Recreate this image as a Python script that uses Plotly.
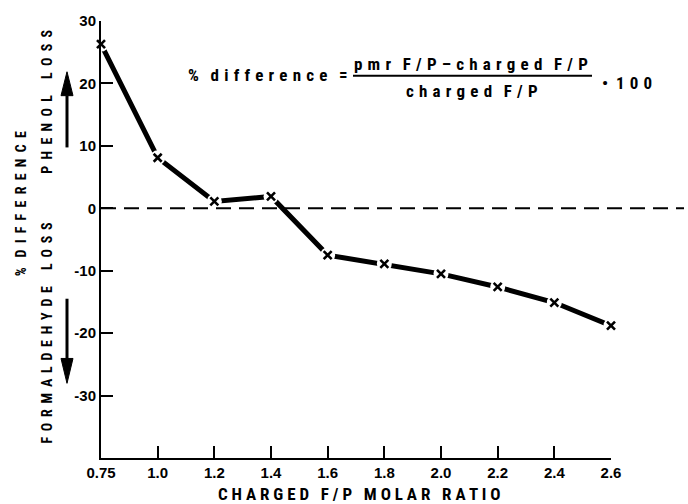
import plotly.graph_objects as go

# ---- data ----
ratio_labels = ["0.75", "1.0", "1.2", "1.4", "1.6", "1.8", "2.0", "2.2", "2.4", "2.6"]
pct_difference = [26.3, 8.1, 1.1, 1.9, -7.5, -8.9, -10.5, -12.6, -15.1, -18.8]
y_tickvals = [30, 20, 10, 0, -10, -20, -30]
y_ticktext = ["30", "20", "10", "0", "-10", "-20", "-30"]

W, H = 688, 504
L, R, T, B = 101, 77, 19, 46
PW, PH = W - L - R, H - T - B

def px(x):
    return (x - L) / PW

def py(y):
    return (H - B - y) / PH

FONT = "Roboto Condensed, Open Sans Condensed, Liberation Sans, sans-serif"
TICKFONT = "Liberation Sans, Arial, sans-serif"

fig = go.Figure()
fig.add_trace(go.Scatter(x=ratio_labels, y=pct_difference, mode="lines",
                         line=dict(color="black", width=5), cliponaxis=False,
                         showlegend=False, hoverinfo="skip"))
fig.add_trace(go.Scatter(x=ratio_labels, y=pct_difference, mode="markers",
                         marker=dict(symbol="circle", size=15, color="white"),
                         cliponaxis=False, showlegend=False, hoverinfo="skip"))
fig.add_trace(go.Scatter(x=ratio_labels, y=pct_difference, mode="markers",
                         marker=dict(symbol="x-thin", size=8,
                                     line=dict(color="black", width=2.6)),
                         cliponaxis=False, showlegend=False))

shapes = []
shapes.append(dict(type="line", xref="paper", yref="y", x0=0, x1=px(684), y0=0, y1=0,
                   line=dict(color="black", width=2, dash="15px,8px"), layer="above"))

def arrow(x, tip, base, tail):
    out = []
    out.append(dict(type="line", xref="paper", yref="paper", x0=px(x), x1=px(x),
                    y0=py(base), y1=py(tail), line=dict(color="black", width=3)))
    out.append(dict(type="path", xref="paper", yref="paper",
                    path=f"M{px(x-6)},{py(base)} L{px(x+6)},{py(base)} L{px(x)},{py(tip)} Z",
                    fillcolor="black", line=dict(color="black", width=1)))
    return out

shapes += arrow(67, 70, 94, 146)
shapes += arrow(67, 383, 358, 298)

shapes.append(dict(type="line", xref="paper", yref="paper", x0=px(353), x1=px(592),
                   y0=py(74), y1=py(74), line=dict(color="black", width=2)))

ann = []
def text(s, x, y, size, angle=0, xanchor="center", font=FONT):
    ann.append(dict(text=f"<b>{s}</b>", x=px(x), y=py(y), xref="paper", yref="paper",
                    showarrow=False, textangle=angle, xanchor=xanchor, yanchor="middle",
                    font=dict(family=font, size=size, color="black")))

G = "\u2004"    # three-per-em space
EN = "\u2002"   # en space
NB = "\u00a0"   # non-breaking space
def sp(s, gap=G, nword=3):
    words = s.split(" ")
    return (NB * nword).join(gap.join(list(w)) for w in words)

text(sp("% DIFFERENCE", EN, 3), 21, 203, 14, -90)
text(sp("PHENOL LOSS", EN, 5), 47, 100, 14, -90)
text(sp("FORMALDEHYDE LOSS", G + "\u200a", 5), 47, 332, 14, -90)
text(sp("CHARGED F/P MOLAR RATIO", " ", 3), 359, 494, 17)
text(sp("% difference =", G, 3), 186, 73, 17, xanchor="left")
text(sp("pmr F/P–charged F/P", G, 3), 471, 62, 17)
text(sp("charged F/P", G, 3), 472, 89, 17)
text("•" + NB * 2 + "1" + G + "0" + G + "0", 600, 81, 17, xanchor="left")

fig.update_layout(
    width=W, height=H,
    margin=dict(l=L, r=R, t=T, b=B),
    paper_bgcolor="white", plot_bgcolor="white",
    shapes=shapes, annotations=ann,
    xaxis=dict(type="category", range=[0, len(ratio_labels) - 1],
               showline=True, linecolor="black", linewidth=2,
               ticks="inside", ticklen=12, tickwidth=2, tickcolor="black",
               showgrid=False, zeroline=False,
               tickfont=dict(family=TICKFONT, size=15, color="black", weight="bold")),
    yaxis=dict(range=[-40, 30], tickvals=y_tickvals, ticktext=y_ticktext,
               showline=True, linecolor="black", linewidth=2,
               ticks="inside", ticklen=12, tickwidth=2, tickcolor="black",
               showgrid=False, zeroline=False,
               tickfont=dict(family=TICKFONT, size=15, color="black", weight="bold")),
)

fig.write_html("out.html")
